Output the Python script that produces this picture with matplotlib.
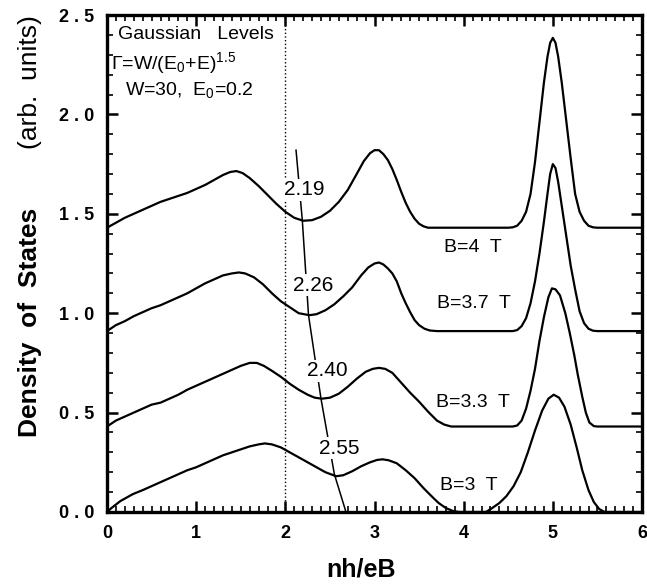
import matplotlib
matplotlib.use("Agg")
import matplotlib.pyplot as plt
from matplotlib.ticker import MultipleLocator

plt.rcParams['font.family'] = ['Liberation Sans', 'DejaVu Sans']
plt.rcParams['mathtext.fontset'] = 'custom'
plt.rcParams['mathtext.rm'] = 'Liberation Sans'
plt.rcParams['mathtext.it'] = 'Liberation Sans'
plt.rcParams['axes.linewidth'] = 2.4
for a in ('xtick', 'ytick'):
    plt.rcParams[a + '.direction'] = 'in'
    plt.rcParams[a + '.major.size'] = 8
    plt.rcParams[a + '.major.width'] = 1.8
    plt.rcParams[a + '.minor.size'] = 4
    plt.rcParams[a + '.minor.width'] = 1.2
    plt.rcParams[a + '.labelsize'] = 13
plt.rcParams['xtick.top'] = True
plt.rcParams['ytick.right'] = True
plt.rcParams['xtick.major.pad'] = 9
plt.rcParams['ytick.major.pad'] = 9

# density of states curves (x = nh/eB)
x_b4 = [0.0, 0.1, 0.2, 0.3, 0.4, 0.5, 0.6, 0.7, 0.8, 0.9, 1.0, 1.1, 1.2, 1.3, 1.38, 1.45, 1.52,
        1.6, 1.7, 1.8, 1.9, 2.0, 2.1, 2.2, 2.3, 2.4, 2.5, 2.6, 2.7, 2.8, 2.88, 2.95, 3.0, 3.05,
        3.1, 3.15, 3.2, 3.25, 3.3, 3.35, 3.4, 3.45, 3.5, 3.55, 3.6, 4.5, 4.55, 4.6, 4.65, 4.7,
        4.75, 4.8, 4.85, 4.9, 4.94, 4.97, 5.0, 5.03, 5.06, 5.1, 5.15, 5.2, 5.25, 5.3, 5.35,
        5.4, 5.45, 5.5, 6.0]
y_b4 = [1.43, 1.455, 1.48, 1.50, 1.52, 1.54, 1.56, 1.575, 1.59, 1.605, 1.625, 1.645, 1.67, 1.695,
        1.71, 1.715, 1.705, 1.68, 1.64, 1.595, 1.55, 1.51, 1.48, 1.465, 1.468, 1.485, 1.515, 1.56,
        1.62, 1.70, 1.765, 1.805, 1.82, 1.82, 1.80, 1.77, 1.725, 1.67, 1.61, 1.555, 1.51, 1.475,
        1.45, 1.437, 1.43, 1.43, 1.432, 1.44, 1.465, 1.51, 1.60, 1.76, 1.96, 2.16, 2.29, 2.36,
        2.385, 2.36, 2.29, 2.16, 1.97, 1.78, 1.60, 1.51, 1.465, 1.44, 1.432, 1.43, 1.43]

x_b37 = [0.0, 0.1, 0.2, 0.3, 0.4, 0.5, 0.6, 0.7, 0.8, 0.9, 1.0, 1.1, 1.2, 1.3, 1.4, 1.48, 1.55,
         1.65, 1.75, 1.85, 1.95, 2.05, 2.15, 2.27, 2.35, 2.45, 2.55, 2.65, 2.75, 2.85, 2.93, 3.0,
         3.05, 3.1, 3.15, 3.2, 3.25, 3.3, 3.35, 3.4, 3.45, 3.5, 3.56, 3.62, 3.7, 4.55, 4.6, 4.65,
         4.7, 4.75, 4.8, 4.85, 4.9, 4.94, 4.97, 5.0, 5.03, 5.06, 5.1, 5.15, 5.2, 5.25, 5.3, 5.35,
         5.4, 5.45, 5.5, 6.0]
y_b37 = [0.91, 0.94, 0.96, 0.985, 1.005, 1.025, 1.04, 1.06, 1.08, 1.10, 1.125, 1.15, 1.17, 1.19,
         1.20, 1.205, 1.20, 1.18, 1.145, 1.10, 1.06, 1.03, 1.00, 0.99, 0.995, 1.015, 1.045, 1.085,
         1.13, 1.19, 1.23, 1.25, 1.255, 1.245, 1.225, 1.20, 1.16, 1.10, 1.05, 1.005, 0.965, 0.94,
         0.922, 0.913, 0.91, 0.91, 0.915, 0.935, 0.975, 1.05, 1.16, 1.30, 1.46, 1.60, 1.70, 1.75,
         1.73, 1.66, 1.54, 1.39, 1.24, 1.12, 1.01, 0.95, 0.922, 0.912, 0.91, 0.91]

x_b33 = [0.0, 0.1, 0.2, 0.3, 0.4, 0.5, 0.6, 0.7, 0.8, 0.9, 1.0, 1.1, 1.2, 1.3, 1.4, 1.5, 1.6,
         1.68, 1.76, 1.85, 1.95, 2.05, 2.15, 2.25, 2.33, 2.41, 2.5, 2.6, 2.7, 2.8, 2.9, 2.98, 3.05,
         3.12, 3.2, 3.3, 3.4, 3.5, 3.6, 3.7, 3.78, 3.86, 4.55, 4.6, 4.65, 4.7, 4.75, 4.8, 4.85,
         4.9, 4.95, 4.99, 5.03, 5.08, 5.14, 5.19, 5.24, 5.28, 5.33, 5.37, 5.41, 5.46, 5.5, 6.0]
y_b33 = [0.43, 0.46, 0.48, 0.50, 0.52, 0.54, 0.55, 0.57, 0.59, 0.615, 0.635, 0.655, 0.675, 0.695,
         0.715, 0.735, 0.75, 0.75, 0.735, 0.71, 0.68, 0.645, 0.615, 0.59, 0.575, 0.57, 0.575, 0.595,
         0.63, 0.67, 0.705, 0.72, 0.725, 0.72, 0.70, 0.65, 0.60, 0.555, 0.505, 0.46, 0.44, 0.43,
         0.43, 0.435, 0.46, 0.52, 0.61, 0.72, 0.86, 0.98, 1.08, 1.125, 1.12, 1.09, 1.0, 0.90, 0.79,
         0.69, 0.58, 0.50, 0.45, 0.432, 0.43, 0.43]

x_b3 = [0.0, 0.05, 0.15, 0.29, 0.4, 0.5, 0.6, 0.7, 0.8, 0.9, 1.0, 1.1, 1.2, 1.3, 1.4, 1.5, 1.6,
        1.7, 1.77, 1.85, 1.95, 2.05, 2.15, 2.25, 2.35, 2.45, 2.57, 2.65, 2.75, 2.85, 2.95, 3.03,
        3.09, 3.16, 3.25, 3.35, 3.45, 3.55, 3.65, 3.72, 3.8, 3.88, 3.95, 4.25, 4.32, 4.4, 4.48,
        4.56, 4.64, 4.72, 4.8, 4.88, 4.95, 5.01, 5.07, 5.13, 5.2, 5.27, 5.33, 5.4, 5.46, 5.52,
        5.58, 6.0]
y_b3 = [0.0, 0.02, 0.055, 0.09, 0.11, 0.13, 0.15, 0.17, 0.19, 0.21, 0.225, 0.245, 0.265, 0.285,
        0.30, 0.315, 0.33, 0.34, 0.345, 0.34, 0.325, 0.30, 0.275, 0.25, 0.225, 0.20, 0.18, 0.185,
        0.205, 0.23, 0.25, 0.262, 0.265, 0.26, 0.245, 0.21, 0.17, 0.12, 0.075, 0.045, 0.02, 0.005,
        0.0, 0.0, 0.02, 0.045, 0.08, 0.13, 0.20, 0.30, 0.41, 0.51, 0.57, 0.59, 0.575, 0.53, 0.44,
        0.32, 0.21, 0.11, 0.05, 0.015, 0.0, 0.0]

curves = [(x_b4, y_b4), (x_b37, y_b37), (x_b33, y_b33), (x_b3, y_b3)]
curve_labels = ['B=4  T', 'B=3.7  T', 'B=3.3  T', 'B=3  T']
label_pos = [(4.1, 1.33), (4.12, 1.05), (4.1, 0.55), (4.06, 0.135)]

# line through the minima, with the minimum positions
min_line_x = [2.12, 2.19, 2.26, 2.40, 2.55, 2.68]
min_line_y = [1.82, 1.47, 0.99, 0.57, 0.19, 0.0]
min_labels = ['2.19', '2.26', '2.40', '2.55']
min_label_pos = [(2.21, 1.62), (2.31, 1.14), (2.47, 0.71), (2.60, 0.32)]

x_ticks = [0, 1, 2, 3, 4, 5, 6]
x_tick_labels = ['0', '1', '2', '3', '4', '5', '6']
y_ticks = [0.0, 0.5, 1.0, 1.5, 2.0, 2.5]
y_tick_labels = ['0 . 0', '0 . 5', '1 . 0', '1 . 5', '2 . 0', '2 . 5']

fig = plt.figure(figsize=(6.47, 5.85), dpi=100)
ax = fig.add_axes([107 / 647, 73 / 585, 535 / 647, 497 / 585])

ax.set_xlim(0, 6)
ax.set_ylim(0, 2.5)
ax.set_xticks(x_ticks, x_tick_labels, fontweight='bold')
ax.set_yticks(y_ticks, y_tick_labels, fontweight='bold')
ax.xaxis.set_minor_locator(MultipleLocator(0.1))
ax.yaxis.set_minor_locator(MultipleLocator(0.1))

for xs, ys in curves:
    ax.plot(xs, ys, color='black', linewidth=1.6)

ax.axvline(2.0, color='black', linestyle=':', linewidth=1.0)
ax.plot(min_line_x, min_line_y, color='black', linewidth=1.1)

for txt, (lx, ly) in zip(min_labels, min_label_pos):
    ax.text(lx, ly, txt, fontsize=15, ha='center', va='center', zorder=3,
            bbox=dict(facecolor='white', edgecolor='none', pad=1.0))

for txt, (lx, ly) in zip(curve_labels, label_pos):
    ax.text(lx, ly, txt, fontsize=14, ha='center', va='center')

ax.text(0.12, 2.38, 'Gaussian   Levels', fontsize=14, ha='left', va='baseline')
ax.text(0.04, 2.23, r'$\Gamma$=W/(E$_0$+E)$^{1.5}$', fontsize=14, ha='left', va='baseline')
ax.text(0.2, 2.10, r'W=30,  E$_0$=0.2', fontsize=14, ha='left', va='baseline')

# axis titles in axes coordinates
ax.text(0.475, -0.115, 'nh/eB', transform=ax.transAxes, fontsize=18,
        fontweight='bold', ha='center', va='center')
ax.text(-0.144, 0.382, 'Density  of  States', transform=ax.transAxes, rotation=90,
        fontsize=19, fontweight='bold', ha='center', va='center')
ax.text(-0.144, 0.865, '(arb.  units)', transform=ax.transAxes, rotation=90,
        fontsize=19, ha='center', va='center')

fig.savefig('out.png', dpi=100)
